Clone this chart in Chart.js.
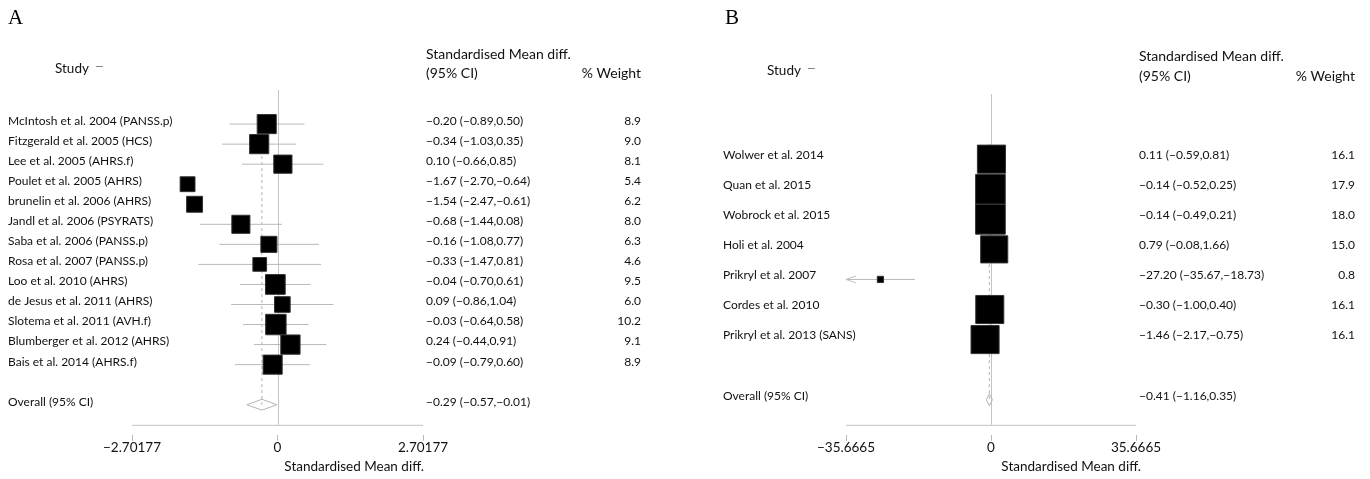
<!DOCTYPE html>
<html>
<head>
<meta charset="utf-8">
<script src="https://cdn.jsdelivr.net/npm/chart.js@4.4.1/dist/chart.umd.min.js"></script>
<style>
  body { margin: 0; background: #fff; }
  #wrap { position: relative; width: 1370px; height: 479px; }
  canvas { position: absolute; top: 0; }
</style>
</head>
<body>
<div id="wrap">
  <canvas id="chartA" width="685" height="479" style="left:0px"></canvas>
  <canvas id="chartB" width="685" height="479" style="left:685px"></canvas>
</div>
<script>
// ---- panel A data
var studiesA = ["McIntosh et al. 2004 (PANSS.p)", "Fitzgerald et al. 2005 (HCS)", "Lee et al. 2005 (AHRS.f)",
  "Poulet et al. 2005 (AHRS)", "brunelin et al. 2006 (AHRS)", "Jandl et al. 2006 (PSYRATS)", "Saba et al. 2006 (PANSS.p)",
  "Rosa et al. 2007 (PANSS.p)", "Loo et al. 2010 (AHRS)", "de Jesus et al. 2011 (AHRS)", "Slotema et al. 2011 (AVH.f)",
  "Blumberger et al. 2012 (AHRS)", "Bais et al. 2014 (AHRS.f)"];
var estA = [-0.20, -0.34, 0.10, -1.67, -1.54, -0.68, -0.16, -0.33, -0.04, 0.09, -0.03, 0.24, -0.09];
var lowA = [-0.89, -1.03, -0.66, -2.70, -2.47, -1.44, -1.08, -1.47, -0.70, -0.86, -0.64, -0.44, -0.79];
var highA = [0.50, 0.35, 0.85, -0.64, -0.61, 0.08, 0.77, 0.81, 0.61, 1.04, 0.58, 0.91, 0.60];
var weightA = [8.9, 9.0, 8.1, 5.4, 6.2, 8.0, 6.3, 4.6, 9.5, 6.0, 10.2, 9.1, 8.9];
var ciShownA = [true, true, true, false, false, true, true, true, true, true, true, true, true];
var overallA = [-0.29, -0.57, -0.01];
var ticksA = [-2.70177, 0, 2.70177];

// ---- panel B data
var studiesB = ["Wolwer et al. 2014", "Quan et al. 2015", "Wobrock et al. 2015", "Holi et al. 2004",
  "Prikryl et al. 2007", "Cordes et al. 2010", "Prikryl et al. 2013 (SANS)"];
var estB = [0.11, -0.14, -0.14, 0.79, -27.20, -0.30, -1.46];
var lowB = [-0.59, -0.52, -0.49, -0.08, -35.67, -1.00, -2.17];
var highB = [0.81, 0.25, 0.21, 1.66, -18.73, 0.40, -0.75];
var weightB = [16.1, 17.9, 18.0, 15.0, 0.8, 16.1, 16.1];
var ciShownB = [true, true, true, true, true, true, true];
var overallB = [-0.41, -1.16, 0.35];
var ticksB = [-35.6665, 0, 35.6665];

var FONT = "Lato";
var AXIS_TITLE = "Standardised Mean diff.";

function fmt(v) {
  return (v < 0 ? "\u2212" : "") + Math.abs(v).toFixed(2);
}
function ciText(e, l, h) {
  return fmt(e) + " (" + fmt(l) + "," + fmt(h) + ")";
}

// draws frame lines, text columns and headers
var forestText = {
  id: "forestText",
  beforeDatasetsDraw: function(chart, args, o) {
    var ctx = chart.ctx, area = chart.chartArea;
    var xs = chart.scales.x;
    var frameY = area.bottom - 10;
    ctx.save();
    ctx.strokeStyle = "#c4c4c4";
    ctx.lineWidth = 1;
    var x0 = Math.round(xs.getPixelForValue(0)) + 0.5;
    ctx.beginPath();
    ctx.moveTo(x0, area.top + o.zeroTop);
    ctx.lineTo(x0, frameY);
    ctx.moveTo(area.left, frameY + 0.5);
    ctx.lineTo(area.right, frameY + 0.5);
    ctx.stroke();
    ctx.restore();
  },
  afterDraw: function(chart, args, o) {
    var ctx = chart.ctx, area = chart.chartArea;
    var ys = chart.scales.y, xs = chart.scales.x;
    ctx.save();
    ctx.fillStyle = "#111";
    ctx.textBaseline = "middle";
    ctx.font = "12px " + FONT;
    var n = o.studies.length;
    for (var i = 0; i < n; i++) {
      var y = ys.getPixelForValue(i + 1) + o.textDy;
      ctx.textAlign = "left";
      ctx.fillText(o.studies[i], o.studyX, y);
      ctx.fillText(ciText(o.est[i], o.low[i], o.high[i]), o.estX, y);
      ctx.textAlign = "right";
      ctx.fillText(o.weight[i].toFixed(1), o.wtX, y);
    }
    var yo = ys.getPixelForValue(n + 2) + o.textDy;
    ctx.textAlign = "left";
    ctx.fillText("Overall (95% CI)", o.studyX, yo);
    ctx.fillText(ciText(o.overall[0], o.overall[1], o.overall[2]), o.estX, yo);

    // headers
    ctx.font = "14px " + FONT;
    ctx.fillText("Standardised Mean diff.", o.estX, o.head1);
    ctx.fillText("(95% CI)", o.estX, o.head2);
    ctx.textAlign = "right";
    ctx.fillText("% Weight", o.wtX, o.head2);
    ctx.textAlign = "left";
    ctx.font = "13.5px " + FONT;
    ctx.fillText("Study", o.studyHeadX, o.studyHeadY);
    var sw = ctx.measureText("Study").width;
    ctx.strokeStyle = "#888";
    ctx.beginPath();
    ctx.moveTo(o.studyHeadX + sw + 7, Math.round(o.studyHeadY - 3) + 0.5);
    ctx.lineTo(o.studyHeadX + sw + 14, Math.round(o.studyHeadY - 3) + 0.5);
    ctx.stroke();

    // x axis title, right aligned under the axis
    ctx.textAlign = "right";
    ctx.fillText(AXIS_TITLE, area.right + o.titleDx, 467);

    // arrows where a CI runs past the axis
    ctx.strokeStyle = "#c0c0c0";
    for (var j = 0; j < n; j++) {
      if (o.ciShown[j] && o.low[j] < xs.min) {
        var ax = xs.getPixelForValue(xs.min), ay = ys.getPixelForValue(j + 1);
        ctx.beginPath();
        ctx.moveTo(ax + 10, ay - 3.5);
        ctx.lineTo(ax, ay);
        ctx.lineTo(ax + 10, ay + 3.5);
        ctx.stroke();
      }
    }

    // panel letter
    ctx.fillStyle = "#000";
    ctx.font = "21px 'Liberation Serif'";
    ctx.textAlign = "left";
    ctx.fillText(o.letter, o.letterX, 18);
    ctx.restore();
  }
};

function makeForest(id, p) {
  var n = p.studies.length;
  var overallRow = n + 2;
  var boxes = [], ci = [];
  for (var i = 0; i < n; i++) {
    boxes.push({ x: p.est[i], y: i + 1 });
    if (p.ciShown[i]) {
      ci.push({ x: Math.max(p.low[i], p.ticks[0]), y: i + 1 });
      ci.push({ x: Math.min(p.high[i], p.ticks[2]), y: i + 1 });
      ci.push({ x: null, y: null });
    }
  }
  var ov = p.overall;
  var diamond = [
    { x: ov[1], y: overallRow }, { x: ov[0], y: overallRow - p.diaH },
    { x: ov[2], y: overallRow }, { x: ov[0], y: overallRow + p.diaH }, { x: ov[1], y: overallRow }
  ];
  var dashed = [{ x: ov[0], y: 0.5 }, { x: ov[0], y: overallRow }];

  return new Chart(document.getElementById(id), {
    type: "scatter",
    data: {
      datasets: [
        {
          data: boxes,
          pointStyle: "rect",
          pointRadius: p.weight.map(function(w) { return p.boxScale * Math.sqrt(w) / Math.SQRT2; }),
          backgroundColor: "#000",
          borderColor: "#333",
          borderWidth: 1
        },
        {
          data: diamond, showLine: true, pointRadius: 0,
          borderColor: "#b4b4b4", borderWidth: 1, fill: false
        },
        {
          data: ci, showLine: true, spanGaps: false, pointRadius: 0,
          borderColor: "#b8b8b8", borderWidth: 1
        },
        {
          data: dashed, showLine: true, pointRadius: 0,
          borderColor: "#b0b0b0", borderWidth: 1, borderDash: [3, 3]
        }
      ]
    },
    options: {
      responsive: false,
      animation: false,
      events: [],
      layout: { padding: { left: p.left, right: p.right, top: 90, bottom: 24 } },
      plugins: {
        legend: { display: false },
        tooltip: { enabled: false },
        forestText: p
      },
      scales: {
        x: {
          type: "linear",
          min: p.ticks[0],
          max: p.ticks[2],
          afterBuildTicks: function(s) {
            s.ticks = p.ticks.map(function(v) { return { value: v }; });
          },
          border: { display: false },
          grid: { drawOnChartArea: false, drawTicks: true, tickLength: 6, color: "#b8b8b8" },
          ticks: {
            autoSkip: false, maxRotation: 0, padding: -1, color: "#111",
            font: { family: FONT, size: 13.5 },
            callback: function(v) { return v === 0 ? "0" : (v < 0 ? "\u2212" : "") + Math.abs(v); }
          },
          title: { display: false }
        },
        y: { type: "linear", display: false, reverse: true, min: p.yMin, max: p.yMax }
      }
    },
    plugins: [forestText]
  });
}

makeForest("chartA", {
  letter: "A", letterX: 8,
  studies: studiesA, est: estA, low: lowA, high: highA, weight: weightA, ciShown: ciShownA,
  overall: overallA, ticks: ticksA,
  left: 132, right: 262, yMin: -0.7, yMax: 16.5,
  boxScale: 6.4, diaH: 0.27, textDy: -3, zeroTop: 0, titleDx: 1,
  studyX: 8, estX: 426, wtX: 641, studyHeadX: 55, studyHeadY: 69, head1: 54, head2: 73
});

makeForest("chartB", {
  letter: "B", letterX: 40,
  studies: studiesB, est: estB, low: lowB, high: highB, weight: weightB, ciShown: ciShownB,
  overall: overallB, ticks: ticksB,
  left: 161, right: 234, yMin: -1.3, yMax: 10.1667,
  boxScale: 7.0, diaH: 0.2, textDy: -4, zeroTop: 4, titleDx: 5,
  studyX: 38, estX: 454, wtX: 670, studyHeadX: 82, studyHeadY: 71, head1: 56, head2: 76
});
</script>
</body>
</html>
